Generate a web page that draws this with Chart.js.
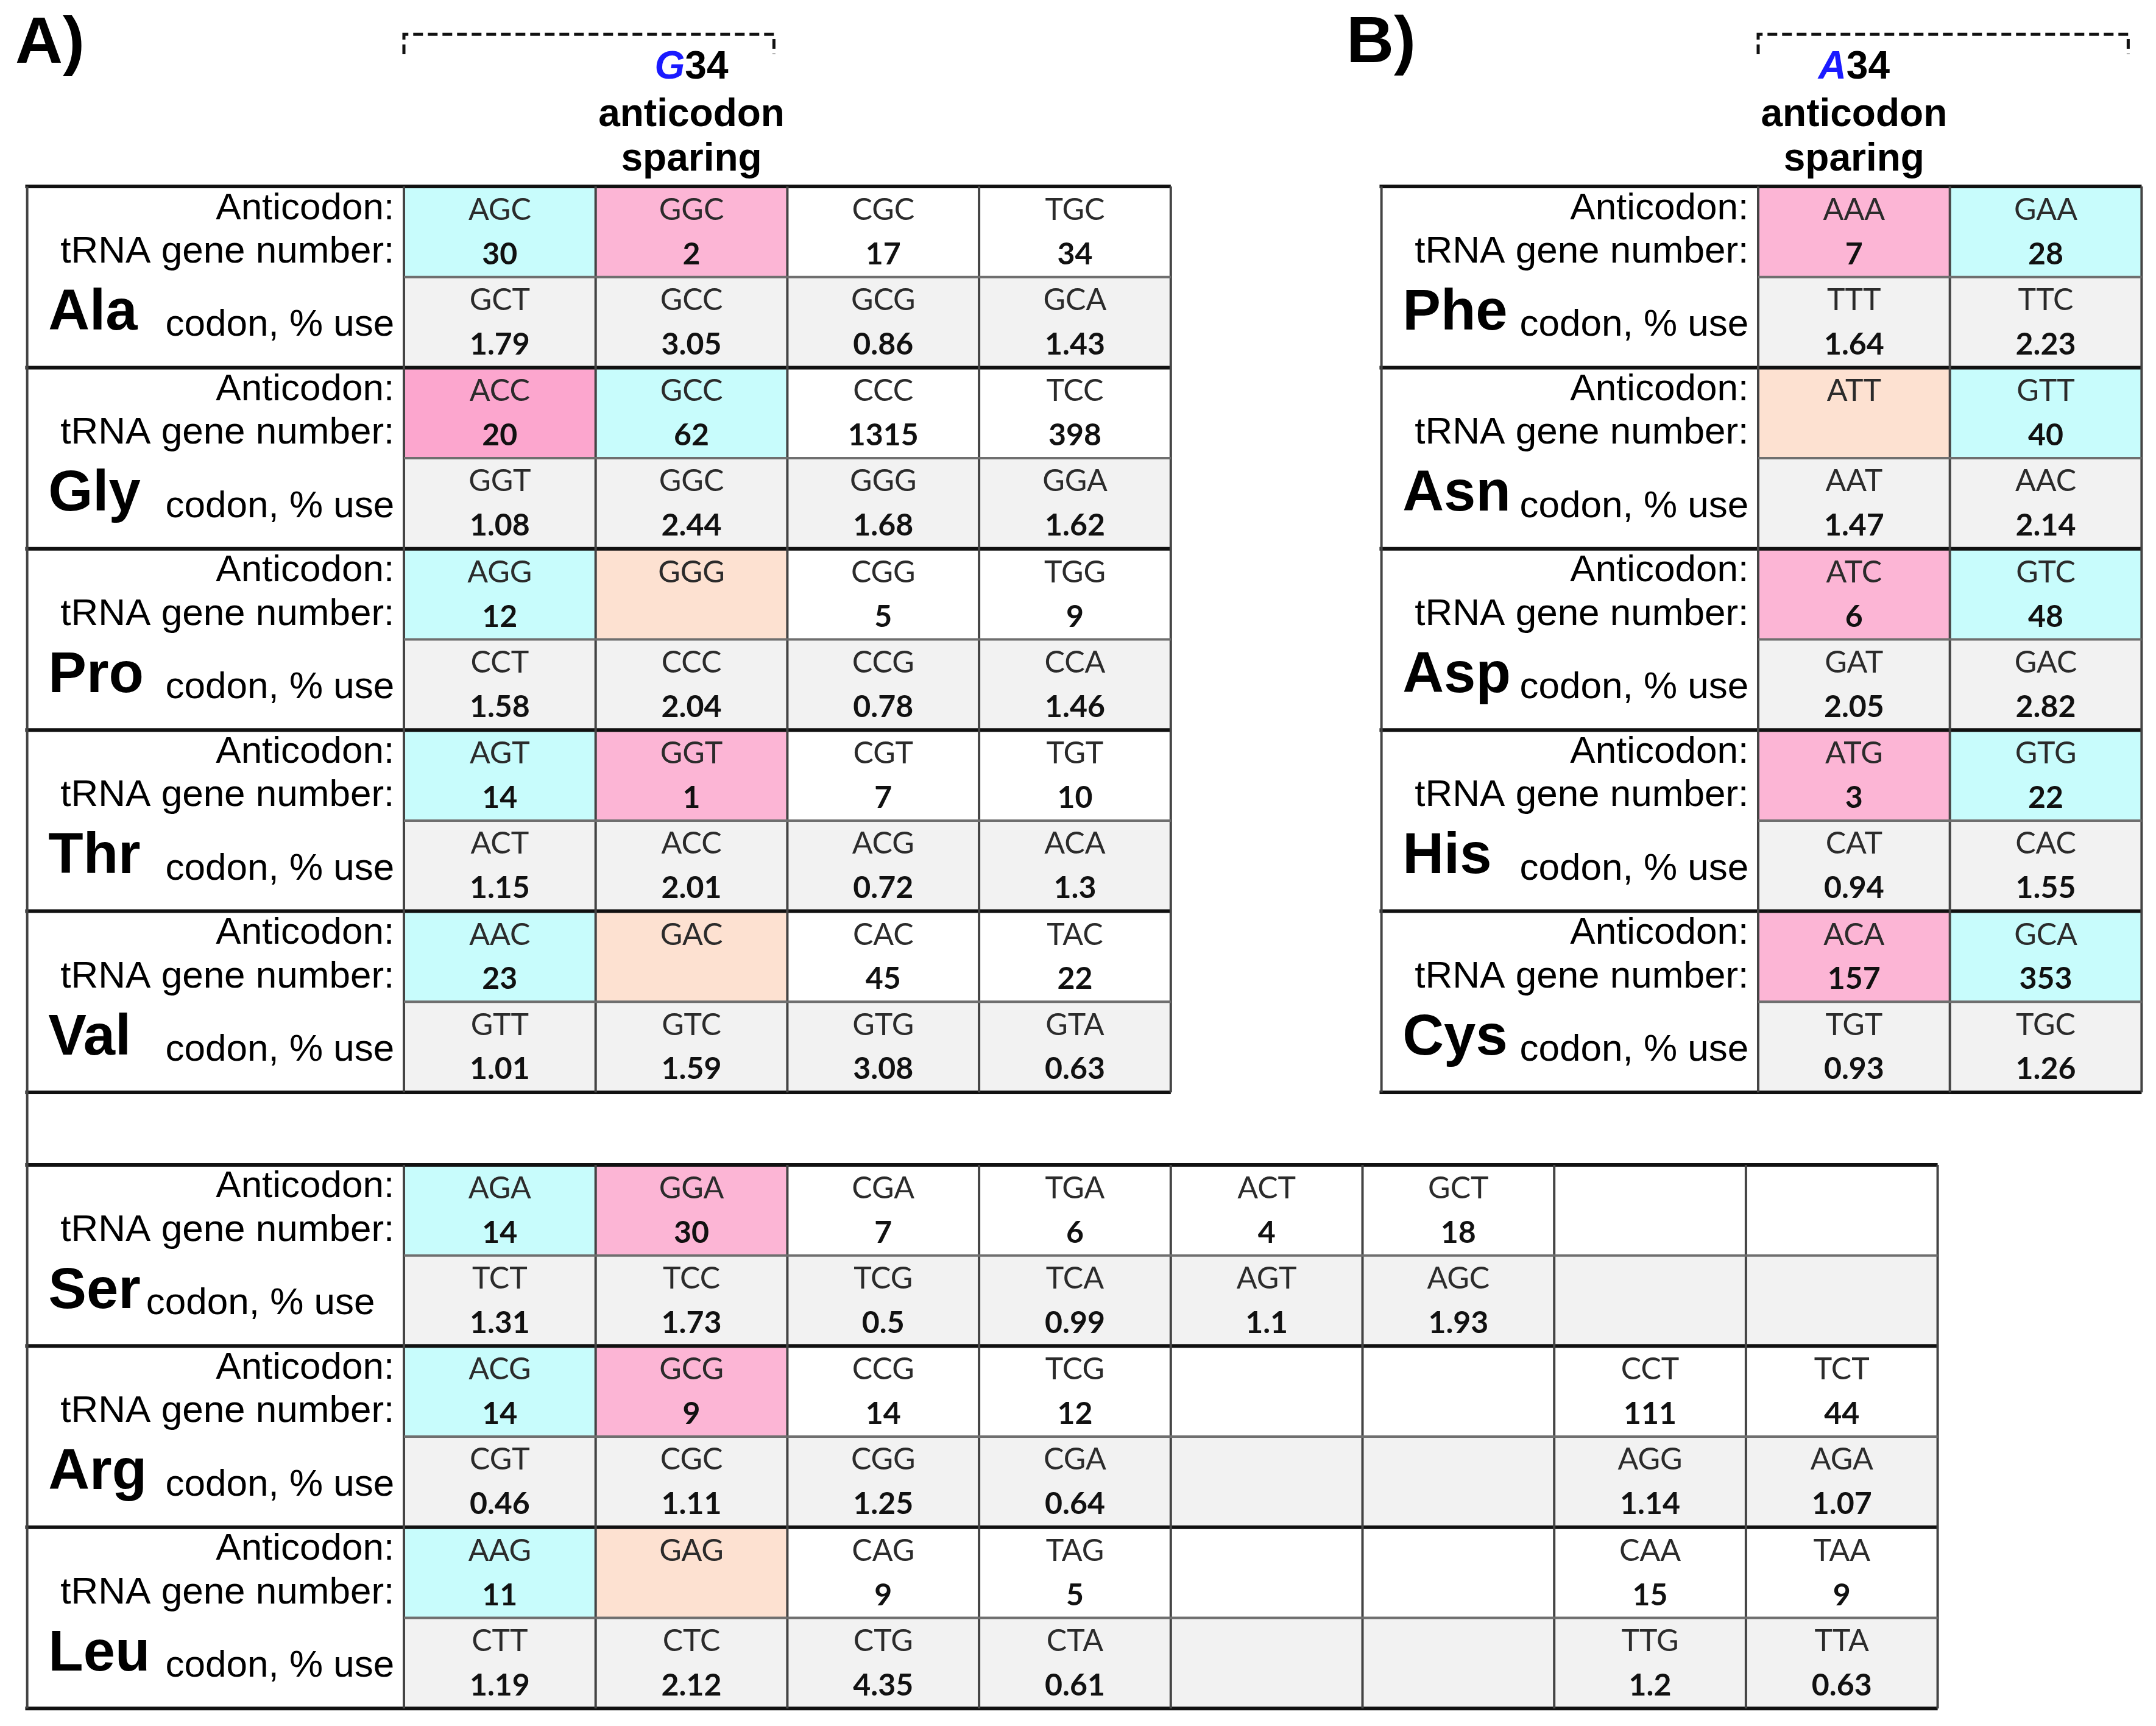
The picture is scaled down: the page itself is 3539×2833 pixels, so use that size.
<!DOCTYPE html>
<html>
<head>
<meta charset="utf-8">
<title>tRNA anticodon sparing</title>
<style>
  html, body { margin: 0; padding: 0; background: #fff; }
  #wrap { width: 3539px; height: 2833px; }
</style>
</head>
<body>
<div id="wrap"><canvas id="table" width="3539" height="2833"></canvas></div>
<script src="https://cdn.jsdelivr.net/npm/chart.js@4.4.1/dist/chart.umd.min.js"></script>
<script>
// ---- values ----

// panel A, four-box amino acids
const aminoA = ['Ala', 'Gly', 'Pro', 'Thr', 'Val'];
const anticodonA = [
  ['AGC', 'GGC', 'CGC', 'TGC'],
  ['ACC', 'GCC', 'CCC', 'TCC'],
  ['AGG', 'GGG', 'CGG', 'TGG'],
  ['AGT', 'GGT', 'CGT', 'TGT'],
  ['AAC', 'GAC', 'CAC', 'TAC']
];
const genesA = [
  [30, 2, 17, 34],
  [20, 62, 1315, 398],
  [12, null, 5, 9],
  [14, 1, 7, 10],
  [23, null, 45, 22]
];
const codonA = [
  ['GCT', 'GCC', 'GCG', 'GCA'],
  ['GGT', 'GGC', 'GGG', 'GGA'],
  ['CCT', 'CCC', 'CCG', 'CCA'],
  ['ACT', 'ACC', 'ACG', 'ACA'],
  ['GTT', 'GTC', 'GTG', 'GTA']
];
const usageA = [
  [1.79, 3.05, 0.86, 1.43],
  [1.08, 2.44, 1.68, 1.62],
  [1.58, 2.04, 0.78, 1.46],
  [1.15, 2.01, 0.72, 1.3],
  [1.01, 1.59, 3.08, 0.63]
];
// class of the A34 / G34 anticodon boxes
const classA = [
  ['major', 'minor'],
  ['minorHigh', 'major'],
  ['major', 'absent'],
  ['major', 'minor'],
  ['major', 'absent']
];

// panel A, six-box amino acids
const aminoS = ['Ser', 'Arg', 'Leu'];
const anticodonS = [
  ['AGA', 'GGA', 'CGA', 'TGA', 'ACT', 'GCT', '', ''],
  ['ACG', 'GCG', 'CCG', 'TCG', '', '', 'CCT', 'TCT'],
  ['AAG', 'GAG', 'CAG', 'TAG', '', '', 'CAA', 'TAA']
];
const genesS = [
  [14, 30, 7, 6, 4, 18, null, null],
  [14, 9, 14, 12, null, null, 111, 44],
  [11, null, 9, 5, null, null, 15, 9]
];
const codonS = [
  ['TCT', 'TCC', 'TCG', 'TCA', 'AGT', 'AGC', '', ''],
  ['CGT', 'CGC', 'CGG', 'CGA', '', '', 'AGG', 'AGA'],
  ['CTT', 'CTC', 'CTG', 'CTA', '', '', 'TTG', 'TTA']
];
const usageS = [
  [1.31, 1.73, 0.5, 0.99, 1.1, 1.93, null, null],
  [0.46, 1.11, 1.25, 0.64, null, null, 1.14, 1.07],
  [1.19, 2.12, 4.35, 0.61, null, null, 1.2, 0.63]
];
const classS = [
  ['major', 'minor'],
  ['major', 'minor'],
  ['major', 'absent']
];

// panel B, two-box amino acids
const aminoB = ['Phe', 'Asn', 'Asp', 'His', 'Cys'];
const anticodonB = [['AAA', 'GAA'], ['ATT', 'GTT'], ['ATC', 'GTC'], ['ATG', 'GTG'], ['ACA', 'GCA']];
const genesB = [[7, 28], [null, 40], [6, 48], [3, 22], [157, 353]];
const codonB = [['TTT', 'TTC'], ['AAT', 'AAC'], ['GAT', 'GAC'], ['CAT', 'CAC'], ['TGT', 'TGC']];
const usageB = [[1.64, 2.23], [1.47, 2.14], [2.05, 2.82], [0.94, 1.55], [0.93, 1.26]];
const classB = [['minor', 'major'], ['absent', 'major'], ['minor', 'major'], ['minor', 'major'], ['minor', 'major']];

const panelLetters = ['A)', 'B)'];
const sparedBase = ['G', 'A'];
const sparedPos = '34';
const headerLines = ['anticodon', 'sparing'];
const rowLabels = ['Anticodon:', 'tRNA gene number:'];
const usageLabel = 'codon, % use';

// ---- layout (x in column widths, y in half-block rows) ----
const LABEL_LEFT = -1.965;
const LABEL_RIGHT = -0.05;
const NAME_INSET = 0.11;
const usageAfterName = ['Ser'];

const panels = [
  { axis: 'x', top: 0, amino: aminoA, anti: anticodonA, genes: genesA, codon: codonA, usage: usageA, cls: classA },
  { axis: 'x', top: 10.8, amino: aminoS, anti: anticodonS, genes: genesS, codon: codonS, usage: usageS, cls: classS },
  { axis: 'xB', top: 0, amino: aminoB, anti: anticodonB, genes: genesB, codon: codonB, usage: usageB, cls: classB }
];
const headers = [
  { axis: 'x', col: 1, letterX: -2.027, letterY: -1.365 },
  { axis: 'xB', col: 0, letterX: -2.148, letterY: -1.372 }
];

const fills = {
  major: '#c8fcfc', minor: '#fcb5d5', minorHigh: '#fca6ce',
  absent: '#fde1d1', codon: '#f2f2f2'
};

const FONT_LABEL = '"Liberation Sans", Arial, sans-serif';
const FONT_CELL = 'Lato, "Open Sans", sans-serif';

// ---- datasets ----
function classBars(kind, axis) {
  let pts = [];
  panels.filter(p => p.axis === axis).forEach(p => {
    p.cls.forEach((row, b) => {
      row.forEach((k, c) => {
        if (k === kind) pts.push({ x: c + 0.5, y: [p.top + 2 * b, p.top + 2 * b + 1] });
      });
    });
  });
  return pts;
}

function codonBars(axis) {
  let pts = [];
  panels.filter(p => p.axis === axis).forEach(p => {
    p.codon.forEach((row, b) => {
      row.forEach((_, c) => {
        pts.push({ x: c + 0.5, y: [p.top + 2 * b + 1, p.top + 2 * b + 2] });
      });
    });
  });
  return pts;
}

function segs(list) {
  let pts = [];
  list.forEach(s => {
    pts.push({ x: s[0], y: s[1] }, { x: s[2], y: s[3] }, { x: s[2], y: null });
  });
  return pts;
}

function gridLines(axis) {
  let thick = [], mid = [], vert = [];
  let yMin = Infinity, yMax = -Infinity;
  panels.filter(p => p.axis === axis).forEach(p => {
    const n = p.amino.length;
    const cols = p.anti[0].length;
    const bottom = p.top + 2 * n;
    yMin = Math.min(yMin, p.top);
    yMax = Math.max(yMax, bottom);
    for (let b = 0; b <= n; b++) {
      thick.push([LABEL_LEFT - 0.01, p.top + 2 * b, cols, p.top + 2 * b]);
    }
    for (let b = 0; b < n; b++) {
      mid.push([0, p.top + 2 * b + 1, cols, p.top + 2 * b + 1]);
    }
    for (let c = 0; c <= cols; c++) {
      vert.push([c, p.top, c, bottom]);
    }
  });
  return { thick, mid, vert, left: [[LABEL_LEFT, yMin, LABEL_LEFT, yMax]] };
}

const barBase = {
  type: 'bar', grouped: false, barPercentage: 1, categoryPercentage: 1,
  borderWidth: 0, order: 2
};
const lineBase = {
  type: 'line', pointRadius: 0, pointHoverRadius: 0, fill: false, tension: 0,
  spanGaps: false, borderCapStyle: 'butt', order: 1
};

let datasets = [];
['x', 'xB'].forEach(axis => {
  ['major', 'minor', 'minorHigh', 'absent'].forEach(k => {
    datasets.push(Object.assign({}, barBase, {
      label: k, data: classBars(k, axis), xAxisID: axis, backgroundColor: fills[k]
    }));
  });
  datasets.push(Object.assign({}, barBase, {
    label: 'codon', data: codonBars(axis), xAxisID: axis, backgroundColor: fills.codon
  }));

  const g = gridLines(axis);
  datasets.push(Object.assign({}, lineBase, { label: 'mid', data: segs(g.mid), xAxisID: axis, borderColor: '#6f6f6f', borderWidth: 4 }));
  datasets.push(Object.assign({}, lineBase, { label: 'vert', data: segs(g.vert), xAxisID: axis, borderColor: '#444', borderWidth: 4 }));
  datasets.push(Object.assign({}, lineBase, { label: 'left', data: segs(g.left), xAxisID: axis, borderColor: '#444', borderWidth: 4 }));
  datasets.push(Object.assign({}, lineBase, { label: 'thick', data: segs(g.thick), xAxisID: axis, borderColor: '#111', borderWidth: 6 }));
});

// dashed brackets over the A34 / G34 column pair
headers.forEach(h => {
  datasets.push(Object.assign({}, lineBase, {
    label: 'bracket',
    data: [{ x: 0, y: -1.46 }, { x: 0, y: -1.68 }, { x: 1.93, y: -1.68 }, { x: 1.93, y: -1.46 }],
    xAxisID: h.axis, borderColor: '#111', borderWidth: 5, borderDash: [16, 8]
  }));
});

// ---- text ----
const tableText = {
  id: 'tableText',
  afterDatasetsDraw(chart) {
    const ctx = chart.ctx;
    const ys = chart.scales.y;
    const py = v => ys.getPixelForValue(v);
    ctx.save();
    ctx.textBaseline = 'alphabetic';

    panels.forEach(p => {
      const xs = chart.scales[p.axis];
      const px = v => xs.getPixelForValue(v);
      p.amino.forEach((name, b) => {
        const top = p.top + 2 * b;
        ctx.fillStyle = '#000';
        ctx.font = '62px ' + FONT_LABEL;
        ctx.textAlign = 'right';
        ctx.fillText(rowLabels[0], px(LABEL_RIGHT), py(top + 0.36));
        ctx.fillText(rowLabels[1], px(LABEL_RIGHT), py(top + 0.84));

        ctx.font = 'bold 94px ' + FONT_LABEL;
        ctx.textAlign = 'left';
        const nameX = px(LABEL_LEFT + NAME_INSET);
        ctx.fillText(name, nameX, py(top + 1.58));
        const nameW = ctx.measureText(name).width;

        ctx.font = '62px ' + FONT_LABEL;
        if (usageAfterName.includes(name)) {
          ctx.textAlign = 'left';
          ctx.fillText(usageLabel, nameX + nameW + 9, py(top + 1.65));
        } else {
          ctx.textAlign = 'right';
          ctx.fillText(usageLabel, px(LABEL_RIGHT), py(top + 1.65));
        }

        ctx.textAlign = 'center';
        p.anti[b].forEach((ac, c) => {
          const cx = px(c + 0.5);
          ctx.font = '50px ' + FONT_CELL;
          ctx.fillStyle = '#2b2b2b';
          if (ac) ctx.fillText(ac, cx, py(top + 0.37));
          if (p.codon[b][c]) ctx.fillText(p.codon[b][c], cx, py(top + 1.365));
          ctx.font = 'bold 50px ' + FONT_CELL;
          ctx.fillStyle = '#111';
          if (p.genes[b][c] !== null) ctx.fillText(String(p.genes[b][c]), cx, py(top + 0.86));
          if (p.usage[b][c] !== null) ctx.fillText(String(p.usage[b][c]), cx, py(top + 1.855));
        });
      });
    });

    headers.forEach((h, i) => {
      const xs = chart.scales[h.axis];
      const cx = xs.getPixelForValue(h.col + 0.5);
      ctx.fillStyle = '#000';
      ctx.textAlign = 'left';
      ctx.font = 'bold 108px ' + FONT_LABEL;
      ctx.fillText(panelLetters[i], xs.getPixelForValue(h.letterX), py(h.letterY));

      ctx.font = 'italic bold 64px ' + FONT_LABEL;
      const wBase = ctx.measureText(sparedBase[i]).width;
      ctx.font = 'bold 64px ' + FONT_LABEL;
      const wPos = ctx.measureText(sparedPos).width;
      const x0 = cx - (wBase + wPos) / 2;
      ctx.font = 'italic bold 64px ' + FONT_LABEL;
      ctx.fillStyle = '#1a1aff';
      ctx.fillText(sparedBase[i], x0, py(-1.19));
      ctx.font = 'bold 64px ' + FONT_LABEL;
      ctx.fillStyle = '#000';
      ctx.fillText(sparedPos, x0 + wBase, py(-1.19));

      ctx.textAlign = 'center';
      ctx.fillText(headerLines[0], cx, py(-0.665));
      ctx.fillText(headerLines[1], cx, py(-0.175));
    });
    ctx.restore();
  }
};

const hiddenLinear = (min, max) => ({
  type: 'linear', axis: 'x', display: false, offset: false, min: min, max: max,
  ticks: { stepSize: 100 }
});

new Chart(document.getElementById('table'), {
  type: 'bar',
  data: { datasets: datasets },
  options: {
    responsive: false,
    devicePixelRatio: 1,
    animation: false,
    events: [],
    layout: { padding: 0 },
    scales: {
      x: hiddenLinear(-2.1068, 9.1389),
      xB: hiddenLinear(-9.1706, 2.0750),
      y: { type: 'linear', display: false, reverse: true, min: -2.0578, max: 16.994, ticks: { stepSize: 100 } }
    },
    plugins: {
      legend: { display: false },
      tooltip: { enabled: false }
    }
  },
  plugins: [tableText]
});
</script>
</body>
</html>
